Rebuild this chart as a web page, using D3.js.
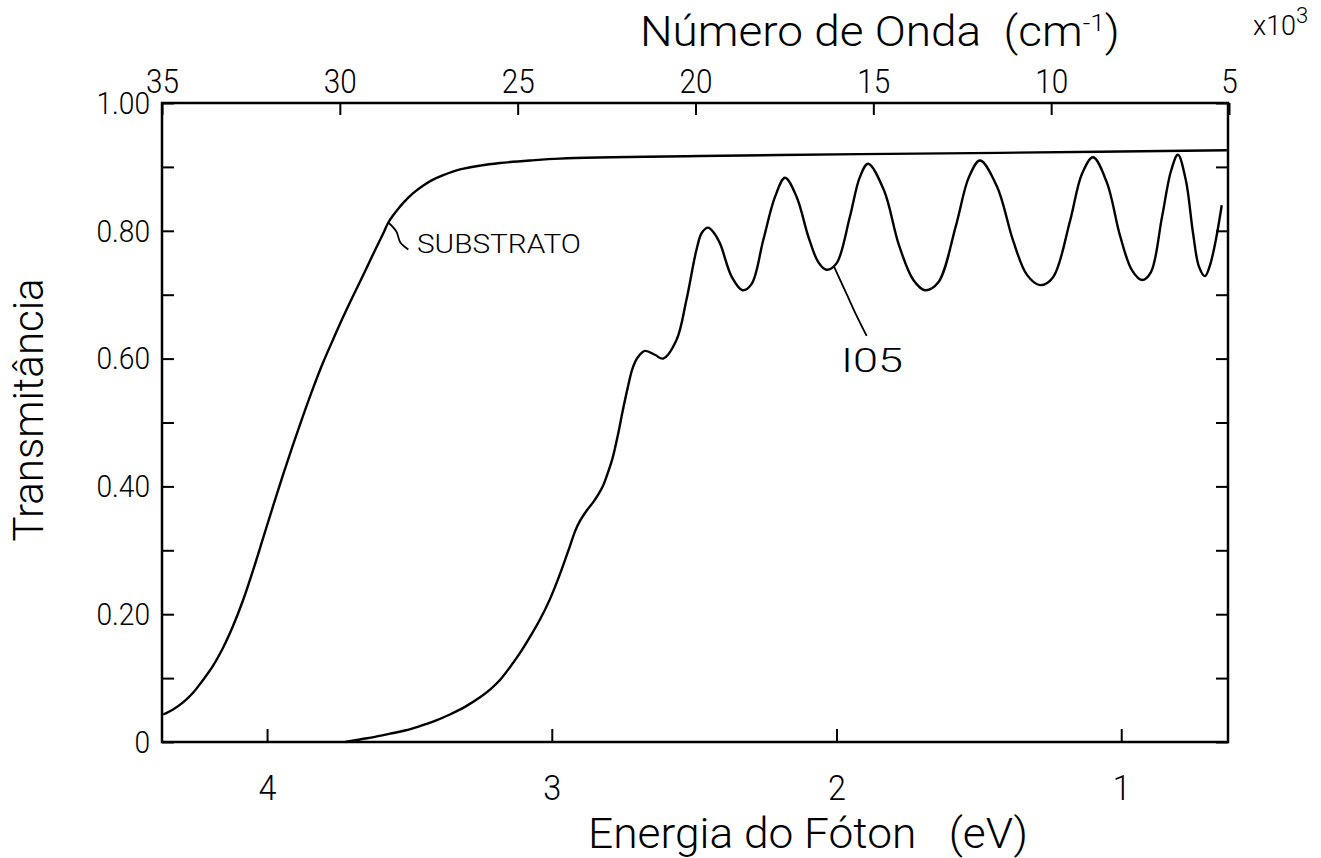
<!DOCTYPE html>
<html>
<head>
<meta charset="utf-8">
<script src="https://cdn.jsdelivr.net/npm/d3@7"></script>
<style>
  html, body { margin: 0; background: #fff; }
  svg text { font-family: Roboto, "Liberation Sans", sans-serif; font-weight: 300; fill: #000; white-space: pre; }
</style>
</head>
<body>
<svg id="chart" width="1321" height="858"></svg>
<script>
// Tick values
const energyTicks = [4, 3, 2, 1];                      // eV
const waveTicks = [35, 30, 25, 20, 15, 10, 5];         // x10^3 cm^-1
const transTicks = [0, 0.1, 0.2, 0.3, 0.4, 0.5, 0.6, 0.7, 0.8, 0.9, 1.0];
const transLabels = ["0", "", "0.20", "", "0.40", "", "0.60", "", "0.80", "", "1.00"];

// Substrate transmittance vs photon energy
const substrateE = [4.365, 4.330, 4.295, 4.260, 4.225, 4.190, 4.155, 4.120, 4.085, 4.049,
                    4.014, 3.979, 3.944, 3.909, 3.874, 3.839, 3.804, 3.768, 3.733, 3.698,
                    3.663, 3.628, 3.593, 3.574, 3.547, 3.521, 3.487, 3.451, 3.417, 3.381,
                    3.322, 3.252, 3.182, 3.077, 2.971, 2.479, 1.917, 1.426, 0.629];
const substrateT = [0.043, 0.051, 0.062, 0.077, 0.097, 0.119, 0.147, 0.181, 0.221, 0.269,
                    0.319, 0.369, 0.418, 0.465, 0.510, 0.553, 0.593, 0.630, 0.665, 0.698,
                    0.730, 0.763, 0.795, 0.813, 0.830, 0.844, 0.859, 0.871, 0.880, 0.887,
                    0.896, 0.902, 0.906, 0.910, 0.913, 0.917, 0.920, 0.922, 0.926];

// Film I05 transmittance vs photon energy
const filmE = [3.726, 3.674, 3.621, 3.568, 3.516, 3.463, 3.410, 3.358, 3.305, 3.252,
               3.217, 3.182, 3.147, 3.112, 3.077, 3.041, 3.006, 2.971, 2.936, 2.918,
               2.901, 2.876, 2.855, 2.837, 2.820, 2.804, 2.786, 2.768, 2.751, 2.733,
               2.716, 2.698, 2.673, 2.638, 2.609, 2.562, 2.527, 2.492, 2.473, 2.451,
               2.431, 2.409, 2.368, 2.330, 2.298, 2.257, 2.216, 2.181, 2.140, 2.099,
               2.064, 2.035, 2.000, 1.953, 1.918, 1.889, 1.833, 1.781, 1.730, 1.689,
               1.643, 1.580, 1.535, 1.496, 1.436, 1.380, 1.331, 1.285, 1.240, 1.180,
               1.138, 1.099, 1.050, 1.004, 0.962, 0.927, 0.896, 0.857, 0.825, 0.801,
               0.773, 0.748, 0.727, 0.706, 0.689, 0.668, 0.647];
const filmT = [0.000, 0.004, 0.008, 0.013, 0.018, 0.025, 0.033, 0.043, 0.055, 0.070,
               0.082, 0.097, 0.117, 0.139, 0.164, 0.192, 0.224, 0.263, 0.307, 0.330,
               0.346, 0.363, 0.375, 0.387, 0.401, 0.420, 0.445, 0.480, 0.518, 0.555,
               0.585, 0.602, 0.612, 0.606, 0.600, 0.629, 0.692, 0.770, 0.797, 0.805,
               0.797, 0.780, 0.728, 0.707, 0.717, 0.786, 0.853, 0.883, 0.853, 0.791,
               0.751, 0.739, 0.749, 0.822, 0.884, 0.905, 0.863, 0.778, 0.723, 0.707,
               0.719, 0.809, 0.884, 0.910, 0.869, 0.785, 0.731, 0.715, 0.727, 0.815,
               0.889, 0.915, 0.875, 0.792, 0.738, 0.723, 0.735, 0.821, 0.894, 0.919,
               0.879, 0.797, 0.744, 0.729, 0.745, 0.785, 0.840];

const svg = d3.select("#chart");
const plotLeft = 162, plotRight = 1228, plotTop = 103, plotBottom = 742;

const x = d3.scaleLinear().domain([4.369, 0.625]).range([plotLeft, plotRight]);
const xTop = d3.scaleLinear().domain([35, 5]).range([plotLeft, plotRight + 1]);
const y = d3.scaleLinear().domain([0, 1]).range([plotBottom, plotTop]);

function styleAxis(g, size, squeeze) {
  g.attr("font-family", null).attr("font-size", null);
  g.select(".domain").remove();
  g.selectAll(".tick line").attr("stroke", "#000").attr("stroke-width", 2);
  g.selectAll(".tick text").attr("font-size", size)
    .attr("transform", function () {
      const x0 = +this.getAttribute("x") || 0;
      return `translate(${x0},0) scale(${squeeze},1) translate(${-x0},0)`;
    });
}

// Bottom axis: photon energy
svg.append("g").attr("transform", `translate(0,${plotBottom})`)
  .call(d3.axisBottom(x).tickValues(energyTicks).tickSize(-13).tickPadding(32).tickFormat(d3.format("d")))
  .call(g => styleAxis(g, 36, 0.9));

// Top axis: wavenumber
svg.append("g").attr("transform", `translate(0,${plotTop})`)
  .call(d3.axisTop(xTop).tickValues(waveTicks).tickSize(-12).tickPadding(10).tickFormat(d3.format("d")))
  .call(g => styleAxis(g, 33, 0.9));

// Left axis: transmittance
svg.append("g").attr("transform", `translate(${plotLeft},0)`)
  .call(d3.axisLeft(y).tickValues(transTicks).tickSize(-12).tickPadding(12)
    .tickFormat((d, i) => transLabels[i]))
  .call(g => styleAxis(g, 32, 0.88));

// Right axis: ticks only
svg.append("g").attr("transform", `translate(${plotRight},0)`)
  .call(d3.axisRight(y).tickValues(transTicks).tickSize(-12).tickFormat(""))
  .call(g => styleAxis(g, 30, 1));

// Frame
svg.append("rect")
  .attr("x", plotLeft).attr("y", plotTop)
  .attr("width", plotRight - plotLeft).attr("height", plotBottom - plotTop)
  .attr("fill", "none").attr("stroke", "#000").attr("stroke-width", 2.5);

// Curves
const line = d3.line().x(d => x(d[0])).y(d => y(d[1])).curve(d3.curveCatmullRom.alpha(0.5));
const substrate = substrateE.map((e, i) => [e, substrateT[i]]);
const film = filmE.map((e, i) => [e, filmT[i]]);

svg.append("path").datum(substrate).attr("d", line)
  .attr("fill", "none").attr("stroke", "#000").attr("stroke-width", 2.4).attr("stroke-linejoin", "round");
svg.append("path").datum(film).attr("d", line)
  .attr("fill", "none").attr("stroke", "#000").attr("stroke-width", 2.4).attr("stroke-linejoin", "round");

// Fit a text element to a target width by horizontal scaling around its start
function fitWidth(sel, x0, width) {
  const w = sel.node().getBBox().width;
  const k = width / w;
  sel.attr("transform", `translate(${x0},0) scale(${k},1) translate(${-x0},0)`);
}

// Curve labels with leader lines
const leader = d3.line().curve(d3.curveCatmullRom.alpha(0.5));
const s0 = [x(3.574), y(0.813)];
svg.append("path")
  .attr("d", leader([s0, [s0[0] + 8, s0[1] + 9], [s0[0] + 12, s0[1] + 20], [s0[0] + 20, s0[1] + 27]]))
  .attr("fill", "none").attr("stroke", "#000").attr("stroke-width", 1.8);
const subLabel = svg.append("text").attr("x", 417).attr("y", 253).attr("font-size", 25).text("SUBSTRATO");
fitWidth(subLabel, 417, 164);

const f0 = [x(2.01), y(0.745)];
svg.append("path")
  .attr("d", leader([f0, [f0[0] + 12, f0[1] + 26], [f0[0] + 24, f0[1] + 52], [f0[0] + 33, f0[1] + 70]]))
  .attr("fill", "none").attr("stroke", "#000").attr("stroke-width", 1.8);
const filmLabel = svg.append("text").attr("x", 841).attr("y", 372).attr("font-size", 34).text("I05");
fitWidth(filmLabel, 841, 62);

// Axis titles
const topTitle = svg.append("text").attr("x", 640).attr("y", 46).attr("font-size", 42);
topTitle.append("tspan").text("Número de Onda  (cm");
topTitle.append("tspan").attr("dy", -15).attr("font-size", 24).text("-1");
topTitle.append("tspan").attr("dy", 15).text(")");
fitWidth(topTitle, 640, 480);

const mult = svg.append("text").attr("x", 1253).attr("y", 35).attr("font-size", 27);
mult.append("tspan").text("x10");
mult.append("tspan").attr("dy", -12).attr("font-size", 22).text("3");

const bottomTitle = svg.append("text").attr("x", 588).attr("y", 848).attr("font-size", 42)
  .text("Energia do Fóton   (eV)");
fitWidth(bottomTitle, 588, 440);

svg.append("text").attr("transform", "translate(43,410) rotate(-90)")
  .attr("text-anchor", "middle").attr("font-size", 42).text("Transmitância");
</script>
</body>
</html>
